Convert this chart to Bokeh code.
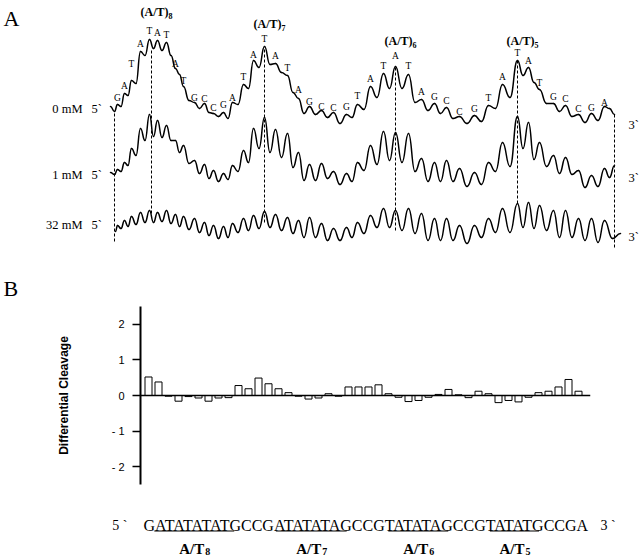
from bokeh.plotting import figure
from bokeh.models import Range1d, FixedTicker, Span
from bokeh.layouts import column
from bokeh.core.properties import value
from bokeh.embed import file_html
from bokeh.resources import INLINE

# ---------------- data ----------------
sequence = "GATATATATGCCGATATATAGCCGTATATAGCCGTATATGCCGA"

# scan position of each band (arbitrary scan units, 0 = 5' end, 500 = 3' end)
band_pos = [3, 10, 17, 26, 35, 43, 52, 61, 69, 80, 90, 99, 109, 118, 129, 139, 150, 161, 173, 184,
            195, 207, 219, 232, 243, 256, 269, 281, 294, 307, 320, 332, 345, 360, 374, 388, 403, 414, 425, 439,
            451, 464, 477, 490]

# densitometry traces: band peak intensity and the minimum following each band
trace_names = ["0 mM", "1 mM", "32 mM"]
trace_offsets = [170, 105, 50]

t0_head_x, t0_head = [-4, 0], [24, 19]
t0_peaks = [26, 37, 50, 79, 91, 90, 88, 62, 44, 28, 27, 17, 18, 28, 46, 70, 84, 67, 55, 32,
            24, 20, 18, 16, 26, 44, 57, 64, 56, 31, 27, 23, 14, 15, 25, 46, 70, 63, 41, 27,
            25, 16, 17, 24]
t0_valleys = [24, 35, 47, 75, 82, 80, 75, 56, 30, 22, 18, 14, 12, 26, 42, 63, 66, 58, 38, 17,
              16, 13, 7, 13, 21, 33, 42, 42, 28, 20, 17, 12, 7, 9, 22, 33, 55, 48, 27, 19,
              14, 8, 10, 22]
t0_tail_x, t0_tail = [500], [16]

t1_head_x, t1_head = [-4, 0], [23, 21]
t1_peaks = [26, 33, 47, 67, 81, 75, 70, 55, 50, 35, 31, 25, 22, 30, 45, 67, 78, 66, 62, 43,
            31, 32, 24, 22, 33, 50, 64, 63, 62, 37, 33, 35, 27, 23, 33, 53, 79, 73, 53, 40,
            38, 25, 20, 27]
t1_valleys = [24, 30, 40, 55, 59, 58, 55, 43, 32, 22, 17, 14, 16, 24, 33, 47, 43, 38, 28, 15,
              15, 17, 11, 14, 25, 31, 35, 33, 24, 14, 14, 14, 9, 11, 24, 29, 47, 36, 29, 22,
              21, 8, 9, 18]
t1_tail_x, t1_tail = [500], [30]

t2_head_x, t2_head = [1], [19]
t2_peaks = [25, 30, 34, 38, 40, 38, 40, 36, 34, 32, 28, 25, 24, 27, 32, 35, 39, 36, 33, 30,
            33, 27, 22, 23, 28, 35, 42, 40, 42, 37, 32, 32, 25, 25, 32, 42, 47, 48, 45, 40,
            40, 32, 32, 30]
t2_valleys = [22, 24, 26, 28, 28, 29, 27, 24, 21, 18, 15, 12, 13, 18, 20, 22, 23, 20, 17, 13,
              13, 10, 10, 13, 17, 23, 23, 20, 17, 10, 10, 10, 7, 13, 18, 18, 23, 22, 20, 13,
              13, 10, 8, 12]
t2_tail_x, t2_tail = [506], [17]

# band label heights (0 mM trace units)
band_label_height = [33, 45, 67, 87, 100, 98, 96, 67, 50, 33, 32, 23, 26, 33, 54, 76, 92, 75, 63, 41,
                     29, 24, 23, 24, 35, 52, 65, 75, 65, 39, 34, 30, 19, 22, 33, 54, 78, 70, 48, 34,
                     32, 22, 23, 28]

# dashed reference lines
marker_x = [0, 37, 150, 281, 403, 500]
marker_top = [189, 252, 253, 233, 240, 186]
marker_bottom = [59, 87, 78, 70, 97, 53]

tract_labels = ["8", "7", "6", "5"]
tract_label_x = [37, 150, 281, 403]
tract_label_y = [289, 277, 260, 260]

cond_label_y = [192, 126, 76]
end_label_y = [176, 123, 64]

# differential cleavage per nucleotide
diff_cleavage = [0.52, 0.38, -0.02, -0.16, -0.03, -0.07, -0.16, -0.07, -0.06, 0.28,
                 0.19, 0.49, 0.33, 0.19, 0.08, -0.02, -0.10, -0.07, 0.05, -0.02,
                 0.24, 0.24, 0.24, 0.30, 0.05, -0.05, -0.17, -0.14, -0.05, 0.03,
                 0.17, 0.02, -0.06, 0.12, 0.05, -0.20, -0.14, -0.18, -0.05, 0.08,
                 0.12, 0.24, 0.45, 0.12]
y_ticks = [-2, -1, 0, 1, 2]
y_tick_labels = ["- 2", "- 1", "0", "1", "2"]

tract_start = [2, 14, 25, 35]
tract_end = [9, 20, 30, 39]

SERIF = value("Liberation Serif")

# ---------------- panel A ----------------
p1 = figure(width=640, height=300, x_range=Range1d(-114, 526), y_range=Range1d(0, 300),
            min_border=0, x_axis_location=None, y_axis_location=None,
            output_backend="svg", toolbar_location=None)
p1.frame_align = False
p1.grid.visible = False
p1.outline_line_color = None


def build(head_x, head, peaks, valleys, tail_x, tail, off):
    xs = list(head_x)
    ys = list(head)
    for i in range(len(band_pos)):
        xs.append(band_pos[i]); ys.append(peaks[i])
        nxt = band_pos[i + 1] if i < len(band_pos) - 1 else tail_x[0]
        xs.append((band_pos[i] + nxt) / 2); ys.append(valleys[i])
    xs += tail_x
    ys += tail
    ys = [y + off for y in ys]
    return xs, ys


traces = [
    build(t0_head_x, t0_head, t0_peaks, t0_valleys, t0_tail_x, t0_tail, trace_offsets[0]),
    build(t1_head_x, t1_head, t1_peaks, t1_valleys, t1_tail_x, t1_tail, trace_offsets[1]),
    build(t2_head_x, t2_head, t2_peaks, t2_valleys, t2_tail_x, t2_tail, trace_offsets[2]),
]

p1.segment(x0=marker_x, y0=marker_bottom, x1=marker_x, y1=marker_top,
           line_color="black", line_width=1, line_dash="3 2")

for xs, ys in traces:
    x0 = xs[:-1]; x1 = xs[1:]; y0 = ys[:-1]; y1 = ys[1:]
    cx0 = [a + (b - a) / 2 for a, b in zip(x0, x1)]
    cx1 = [b - (b - a) / 2 for a, b in zip(x0, x1)]
    p1.bezier(x0=x0, y0=y0, x1=x1, y1=y1, cx0=cx0, cy0=y0, cx1=cx1, cy1=y1,
              line_color="black", line_width=1.5, line_cap="round")

p1.text(x=band_pos, y=[h + trace_offsets[0] for h in band_label_height], text=list(sequence),
        text_font=SERIF, text_font_size="9.5px", text_align="center", text_baseline="middle",
        text_color="black")

p1.text(x=tract_label_x, y=tract_label_y, text=["(A/T)"] * 4, x_offset=17,
        text_font=SERIF, text_font_size="12px", text_font_style="bold",
        text_align="right", text_baseline="middle", text_color="black")
p1.text(x=tract_label_x, y=[v - 4 for v in tract_label_y], text=tract_labels, x_offset=17,
        text_font=SERIF, text_font_size="8px", text_font_style="bold",
        text_align="left", text_baseline="middle", text_color="black")

p1.text(x=[-32] * 3, y=cond_label_y, text=trace_names, text_font=SERIF, text_font_size="12.5px",
        text_align="right", text_baseline="middle", text_color="black")
p1.text(x=[-23] * 3, y=cond_label_y, text=["5`"] * 3, text_font=SERIF, text_font_size="12.5px",
        text_align="left", text_baseline="middle", text_color="black")
p1.text(x=[514] * 3, y=end_label_y, text=["3`"] * 3, text_font=SERIF, text_font_size="12.5px",
        text_align="left", text_baseline="middle", text_color="black")

p1.text(x=[-111, -111], y=[282.5, 12], text=["A", "B"], text_font=SERIF, text_font_size="22px",
        text_align="left", text_baseline="middle", text_color="black")

# ---------------- panel B: bars ----------------
p2 = figure(width=640, height=190, x_range=Range1d(0.2, 45.2), y_range=Range1d(-2.5, 2.5),
            min_border_left=140, min_border_right=50, min_border_top=6, min_border_bottom=6,
            x_axis_location=None, output_backend="svg", toolbar_location=None)
p2.frame_align = False
p2.grid.visible = False
p2.outline_line_color = None
ax = p2.yaxis[0]
ax.ticker = FixedTicker(ticks=y_ticks, minor_ticks=[])
ax.major_label_overrides = {t: l for t, l in zip(y_ticks, y_tick_labels)}
ax.major_tick_out = 8
ax.major_tick_in = 0
ax.minor_tick_out = 0
ax.minor_tick_in = 0
ax.axis_line_width = 2
ax.major_tick_line_width = 1.5
ax.major_label_standoff = 8
ax.major_label_text_font = "Liberation Sans"
ax.major_label_text_font_size = "11px"
ax.major_label_text_color = "black"
ax.axis_label = "Differential Cleavage"
ax.axis_label_text_font = "Liberation Sans"
ax.axis_label_text_font_size = "12px"
ax.axis_label_text_font_style = "bold"
ax.axis_label_text_color = "black"
ax.axis_label_standoff = 38

p2.vbar(x=list(range(1, len(diff_cleavage) + 1)), top=diff_cleavage, bottom=0, width=0.7,
        fill_color="white", line_color="black", line_width=1)
p2.add_layout(Span(location=0, dimension="width", line_color="black", line_width=1.5))

# ---------------- sequence strip ----------------
p3 = figure(width=640, height=65, x_range=Range1d(-13.8, 50.2), y_range=Range1d(0, 65),
            min_border=0, x_axis_location=None, y_axis_location=None,
            output_backend="svg", toolbar_location=None)
p3.frame_align = False
p3.grid.visible = False
p3.outline_line_color = None

seq_size = 16
seq_span = 44.8          # width of the printed sequence, in bar units
char_w = {"A": 0.722, "C": 0.667, "G": 0.722, "T": 0.611}
total_w = sum(char_w[ch] for ch in sequence)
cum = [0.0]
for ch in sequence:
    cum.append(cum[-1] + char_w[ch] * seq_span / total_w)
seq_x0 = 0.5

p3.text(x=[seq_x0], y=[30.5], text=[sequence], text_font=SERIF, text_font_size=f"{seq_size}px",
        text_align="left", text_baseline="alphabetic", text_color="black")
p3.text(x=[-1.1], y=[30.5], text=["5 `"], text_font=SERIF, text_font_size="14px",
        text_align="right", text_baseline="alphabetic", text_color="black")
p3.text(x=[46.2], y=[30.5], text=["3 `"], text_font=SERIF, text_font_size="14px",
        text_align="left", text_baseline="alphabetic", text_color="black")

ux0 = [seq_x0 + cum[s - 1] for s in tract_start]
ux1 = [seq_x0 + cum[e] for e in tract_end]
p3.segment(x0=ux0, y0=[24.5] * 4, x1=ux1, y1=[24.5] * 4, line_color="black", line_width=1)
uc = [(a + b) / 2 for a, b in zip(ux0, ux1)]
p3.text(x=uc, y=[7] * 4, text=["A/T"] * 4, x_offset=10, text_font=SERIF, text_font_size="15px",
        text_font_style="bold", text_align="right", text_baseline="alphabetic", text_color="black")
p3.text(x=uc, y=[4.5] * 4, text=tract_labels, x_offset=11, text_font=SERIF, text_font_size="10px",
        text_font_style="bold", text_align="left", text_baseline="alphabetic", text_color="black")

layout = column(p1, p2, p3, spacing=0)
open("out.html", "w").write(file_html(layout, INLINE))
